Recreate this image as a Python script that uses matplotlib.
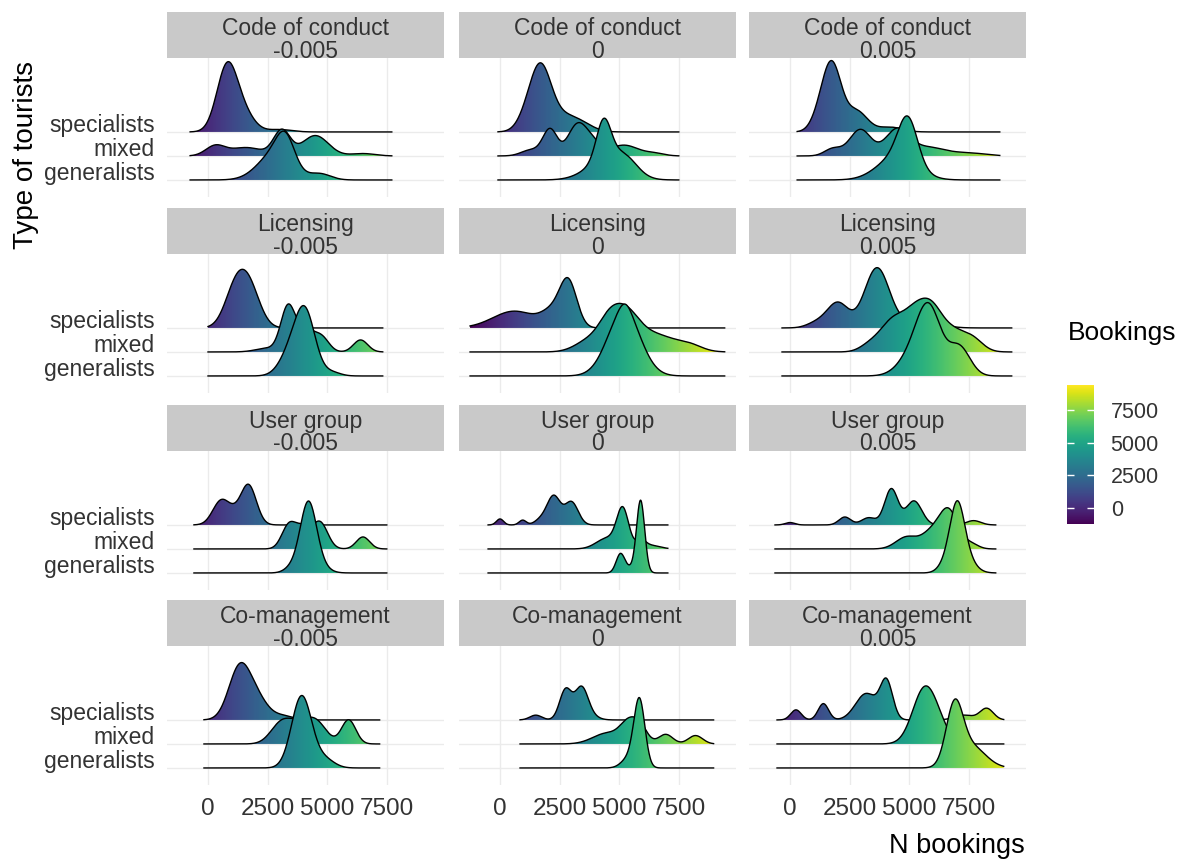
import numpy as np
import matplotlib
matplotlib.use("Agg")
import matplotlib.pyplot as plt
from matplotlib.patches import Polygon
from matplotlib.colors import Normalize
from matplotlib.cm import ScalarMappable

plt.rcParams['font.family'] = ['Liberation Sans', 'DejaVu Sans']

policies = ["Code of conduct", "Licensing", "User group", "Co-management"]
effects = ["-0.005", "0", "0.005"]
groups = ["specialists", "mixed", "generalists"]
x_ticks = [0, 2500, 5000, 7500]
fill_range = (-1260, 9450)

# bookings range covered by each panel (rows = policy, columns = effect)
booking_range = [
    [(-750, 7710), (-85, 7500), (300, 8800)],
    [(0, 7330), (-1257, 9425), (-335, 9300)],
    [(-590, 7500), (-500, 7040), (-630, 8630)],
    [(-170, 7200), (840, 8960), (-545, 8965)],
]

# modes of the booking distributions: (centre, height, spread)
code_of_conduct = [
    {"specialists": [(800, 2.7, 430), (1500, 0.7, 450), (3000, 0.1, 500)],
     "mixed": [(300, 0.4, 400), (1600, 0.35, 700), (3100, 1.05, 350), (4500, 0.85, 550), (6500, 0.1, 500)],
     "generalists": [(2800, 1.1, 700), (3250, 1.1, 380), (4700, 0.25, 450)]},
    {"specialists": [(1100, 0.4, 400), (1700, 2.6, 450), (2700, 0.6, 600), (3500, 0.2, 500)],
     "mixed": [(1300, 0.25, 400), (2100, 1.1, 300), (3200, 1.15, 380), (3800, 0.6, 400), (5200, 0.45, 600), (6500, 0.1, 400)],
     "generalists": [(4350, 1.6, 300), (4500, 0.9, 800), (5300, 0.5, 500)]},
    {"specialists": [(1200, 0.4, 350), (1750, 2.8, 400), (2800, 0.85, 450), (4200, 0.2, 500)],
     "mixed": [(1800, 0.3, 350), (2950, 1.1, 450), (4500, 1.1, 500), (5800, 0.35, 700), (7500, 0.12, 700)],
     "generalists": [(4500, 1.0, 800), (4950, 1.8, 400)]},
]

licensing = [
    {"specialists": [(1150, 1.55, 450), (1750, 1.5, 450)],
     "mixed": [(2500, 0.15, 500), (3350, 1.8, 300), (4100, 0.9, 400), (4800, 0.5, 300), (6400, 0.5, 300)],
     "generalists": [(3450, 0.9, 450), (4080, 2.55, 420), (5200, 0.15, 350)]},
    {"specialists": [(600, 0.7, 900), (2200, 0.6, 450), (2870, 1.85, 360)],
     "mixed": [(3800, 0.5, 600), (4500, 0.5, 400), (5150, 1.6, 600), (6500, 0.7, 900), (8000, 0.2, 500)],
     "generalists": [(5200, 2.7, 680), (5250, 0.3, 250)]},
    {"specialists": [(1100, 0.2, 400), (2000, 1.05, 450), (3650, 2.5, 520), (5500, 0.35, 700)],
     "mixed": [(3300, 0.2, 400), (4400, 1.4, 600), (5200, 0.6, 400), (5900, 1.95, 550), (6900, 0.5, 400), (7600, 0.6, 450)],
     "generalists": [(5200, 0.9, 600), (5850, 2.5, 500), (7100, 1.2, 450)]},
]

user_group = [
    {"specialists": [(550, 1.0, 350), (1100, 0.3, 300), (1700, 1.65, 330)],
     "mixed": [(3400, 1.0, 300), (4000, 0.8, 300), (4700, 1.1, 320), (6500, 0.5, 280)],
     "generalists": [(3500, 0.2, 300), (4200, 2.8, 340), (4600, 0.3, 400)]},
    {"specialists": [(0, 0.25, 150), (950, 0.2, 150), (1700, 0.2, 250), (2250, 1.2, 280), (3000, 0.95, 280)],
     "mixed": [(4500, 0.45, 450), (5150, 1.6, 250), (5900, 0.3, 200), (6300, 0.15, 400)],
     "generalists": [(5050, 0.75, 180), (5500, 0.2, 300), (5900, 2.95, 170)]},
    {"specialists": [(0, 0.1, 200), (2300, 0.33, 250), (3300, 0.3, 300), (4250, 1.5, 280), (5200, 1.0, 330), (7700, 0.18, 300)],
     "mixed": [(4900, 0.5, 450), (5900, 0.6, 400), (6650, 1.6, 400), (7600, 0.2, 300)],
     "generalists": [(6500, 0.3, 300), (7000, 2.4, 300), (7300, 0.7, 400)]},
]

co_management = [
    {"specialists": [(1300, 2.0, 450), (2000, 0.9, 500), (3200, 0.15, 400)],
     "mixed": [(3100, 0.9, 450), (3800, 0.5, 400), (4500, 0.95, 450), (5900, 1.0, 300)],
     "generalists": [(3930, 3.0, 420), (4900, 0.35, 400)]},
    {"specialists": [(1500, 0.2, 250), (2750, 1.25, 250), (3420, 1.35, 280), (3900, 0.1, 300)],
     "mixed": [(4500, 0.45, 600), (5400, 0.8, 350), (5900, 0.6, 300), (6950, 0.4, 300), (8200, 0.35, 300)],
     "generalists": [(5400, 0.4, 300), (5850, 2.8, 230)]},
    {"specialists": [(250, 0.42, 220), (1400, 0.68, 220), (3200, 1.1, 450), (4050, 1.55, 260), (7300, 0.2, 400), (8250, 0.48, 280)],
     "mixed": [(5650, 2.3, 500), (6300, 0.4, 400)],
     "generalists": [(6900, 2.4, 350), (7600, 0.9, 600)]},
]

panel_modes = [code_of_conduct, licensing, user_group, co_management]


def density(modes, x):
    d = np.zeros_like(x)
    for c, h, s in modes:
        d += h * np.exp(-0.5 * ((x - c) / s) ** 2)
    return d


W, H = 1187, 860


def box(x, y, w, h):
    return [x / W, 1 - (y + h) / H, w / W, h / H]


col_x = [167, 459, 749]
strip_top = [12, 208, 405, 600]
panel_w, strip_h, panel_h = 277, 46, 139
xlim = (-1720, 9900)
ylim = (0.29, 6.08)

norm = Normalize(*fill_range)
grad_x = np.linspace(xlim[0], xlim[1], 600)
grad = grad_x.reshape(1, -1)

fig = plt.figure(figsize=(W / 100, H / 100), dpi=100)

for r, policy in enumerate(policies):
    for c, effect in enumerate(effects):
        # facet strip
        sax = fig.add_axes(box(col_x[c], strip_top[r], panel_w, strip_h))
        sax.set_facecolor('#C9C9C9')
        sax.set_xticks([])
        sax.set_yticks([])
        for s in sax.spines.values():
            s.set_visible(False)
        sax.text(0.5, 1 - 23 / strip_h, policy, ha='center', va='baseline',
                 fontsize=16.5, color='#333333', transform=sax.transAxes)
        sax.text(0.5, 1 - 45.5 / strip_h, effect, ha='center', va='baseline',
                 fontsize=16.5, color='#333333', transform=sax.transAxes)

        ax = fig.add_axes(box(col_x[c], strip_top[r] + strip_h, panel_w, panel_h))
        for s in ax.spines.values():
            s.set_visible(False)
        for t in x_ticks:
            ax.axvline(t, color='#EBEBEB', lw=1.0, zorder=0.5)
        for yb in [1, 2, 3]:
            ax.axhline(yb, color='#EBEBEB', lw=1.0, zorder=0.5)

        lo, hi = booking_range[r][c]
        x = np.linspace(lo, hi, 500)
        modes = panel_modes[r][c]
        for i, g in enumerate(groups):
            base = 3 - i
            d = density(modes[g], x)
            z = 2 + 2 * i
            verts = np.column_stack([np.r_[x, x[::-1]],
                                     np.r_[base + d, np.full_like(x, base)]])
            patch = Polygon(verts, closed=True, facecolor='none',
                            edgecolor='none', zorder=z)
            ax.add_patch(patch)
            im = ax.imshow(grad, extent=(xlim[0], xlim[1], base, base + d.max() + 0.1),
                           aspect='auto', cmap='viridis', norm=norm,
                           origin='lower', interpolation='bilinear', zorder=z)
            im.set_clip_path(patch)
            ax.plot(x, base + d, color='black', lw=1.0, zorder=z + 0.5)

        ax.set_xlim(*xlim)
        ax.set_ylim(*ylim)
        ax.set_aspect('auto')
        ax.set_xticks(x_ticks)
        ax.set_yticks([3, 2, 1])
        ax.tick_params(length=0)
        if r == len(policies) - 1:
            ax.set_xticklabels([str(t) for t in x_ticks], fontsize=17.5,
                               color='#333333')
            ax.tick_params(axis='x', pad=9.4)
        else:
            ax.set_xticklabels([])
        if c == 0:
            ax.set_yticklabels(groups, fontsize=16.5, color='#333333')
            ax.tick_params(axis='y', pad=8.6)
            for lab in ax.get_yticklabels():
                lab.set_verticalalignment('baseline')
        else:
            ax.set_yticklabels([])

# colour bar legend
cax = fig.add_axes(box(1067, 385, 27, 139))
sm = ScalarMappable(norm=norm, cmap='viridis')
cbar = fig.colorbar(sm, cax=cax, ticks=x_ticks)
cbar.outline.set_visible(False)
cax.yaxis.set_ticks_position('both')
cax.tick_params(direction='in', length=5, width=1, color='white',
                labelsize=15.5, labelcolor='#333333', pad=12,
                left=True, right=True, labelleft=False, labelright=True)
cax.minorticks_off()
fig.text(1068 / W, 1 - 333 / H, "Bookings", ha='left', va='center', fontsize=19)

fig.text(1025 / W, 1 - 846 / H, "N bookings", ha='right', va='center', fontsize=19.5)
fig.text(26 / W, 1 - 155 / H, "Type of tourists", ha='center', va='center',
         rotation=90, fontsize=20)

fig.savefig("out.png", dpi=100)
